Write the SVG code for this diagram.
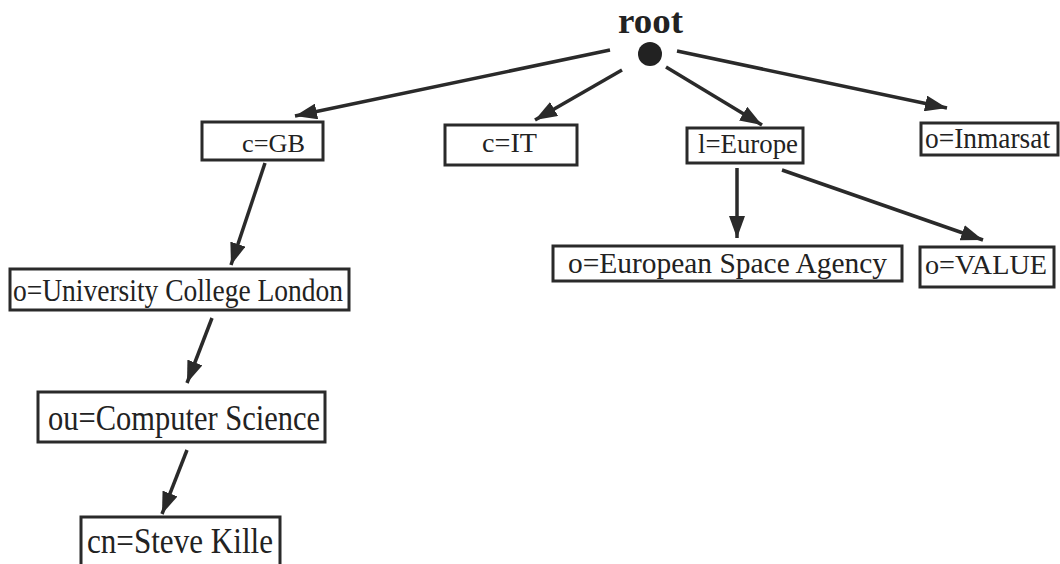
<svg xmlns="http://www.w3.org/2000/svg" width="1060" height="564" viewBox="0 0 1060 564">
<defs>
<marker id="ah" markerUnits="userSpaceOnUse" markerWidth="22" markerHeight="16" refX="22" refY="8" orient="auto">
<path d="M0,0 L22,8 L0,16 z" fill="#2a2a2a"/>
</marker>
<style>
.box{fill:#fff;stroke:#2a2a2a;stroke-width:3}
.t{font-family:"Liberation Serif","Times New Roman",serif;fill:#222}
.e{stroke:#2a2a2a;stroke-width:3.5;fill:none;marker-end:url(#ah)}
</style>
</defs>
<rect width="1060" height="564" fill="#fff"/>
<g id="connectors">
<line class="e" x1="610" y1="50" x2="295" y2="116"/>
<line class="e" x1="622" y1="70" x2="535" y2="120"/>
<line class="e" x1="666" y1="67" x2="762" y2="125"/>
<line class="e" x1="677" y1="51" x2="947" y2="108"/>
<line class="e" x1="265" y1="163" x2="231" y2="265"/>
<line class="e" x1="212" y1="318" x2="187" y2="383"/>
<line class="e" x1="187" y1="450" x2="162" y2="514"/>
<line class="e" x1="737" y1="168" x2="737" y2="238"/>
<line class="e" x1="782" y1="170" x2="983" y2="240"/>
</g>
<g id="root">
<text class="t" x="618" y="33" font-size="36" font-weight="bold" textLength="65" lengthAdjust="spacingAndGlyphs">root</text>
<circle cx="650" cy="54" r="12" fill="#222"/>
</g>
<g id="cGB">
<rect class="box" x="202" y="122" width="121" height="38"/>
<text class="t" x="242" y="152" font-size="25" textLength="63" lengthAdjust="spacingAndGlyphs">c=GB</text>
</g>
<g id="cIT">
<rect class="box" x="445" y="125" width="132" height="40"/>
<text class="t" x="482" y="152" font-size="28" textLength="55" lengthAdjust="spacingAndGlyphs">c=IT</text>
</g>
<g id="lEurope">
<rect class="box" x="687" y="128" width="116" height="35"/>
<text class="t" x="698" y="153" font-size="27" textLength="100" lengthAdjust="spacingAndGlyphs">l=Europe</text>
</g>
<g id="oInmarsat">
<rect class="box" x="921" y="123" width="137" height="32"/>
<text class="t" x="925" y="148" font-size="29" textLength="125" lengthAdjust="spacingAndGlyphs">o=Inmarsat</text>
</g>
<g id="oESA">
<rect class="box" x="553" y="246" width="349" height="35"/>
<text class="t" x="568" y="273" font-size="29" textLength="319" lengthAdjust="spacingAndGlyphs">o=European Space Agency</text>
</g>
<g id="oVALUE">
<rect class="box" x="920" y="247" width="134" height="40"/>
<text class="t" x="925" y="274" font-size="27" textLength="122" lengthAdjust="spacingAndGlyphs">o=VALUE</text>
</g>
<g id="oUCL">
<rect class="box" x="10" y="269" width="339" height="41"/>
<text class="t" x="13" y="301" font-size="31" textLength="330" lengthAdjust="spacingAndGlyphs">o=University College London</text>
</g>
<g id="ouCS">
<rect class="box" x="38" y="392" width="287" height="50"/>
<text class="t" x="48" y="430" font-size="36" textLength="272" lengthAdjust="spacingAndGlyphs">ou=Computer Science</text>
</g>
<g id="cnKille">
<rect class="box" x="81" y="517" width="199" height="52"/>
<text class="t" x="87" y="553" font-size="35" textLength="186" lengthAdjust="spacingAndGlyphs">cn=Steve Kille</text>
</g>
</svg>
